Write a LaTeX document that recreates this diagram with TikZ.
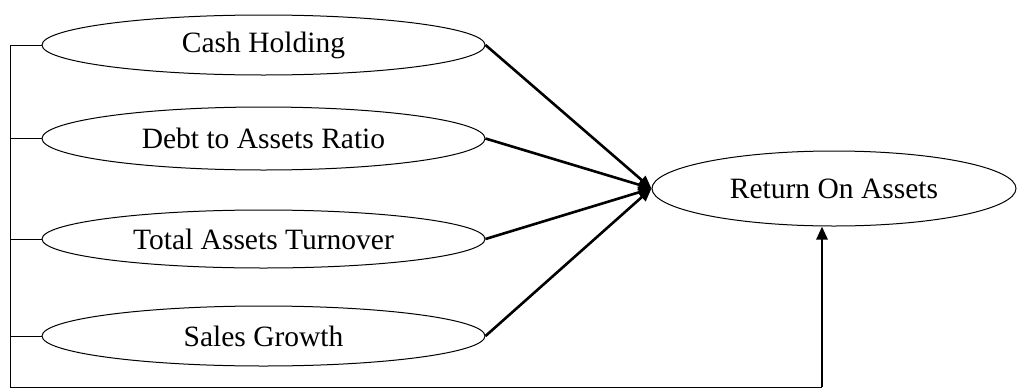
\documentclass[tikz,border=0pt]{standalone}
\usepackage{fontspec}
\setmainfont{Liberation Serif}
\usetikzlibrary{shapes.geometric,arrows.meta}
\begin{document}
\begin{tikzpicture}[x=1pt,y=-1pt,
  oval/.style={draw,ellipse,line width=1pt,inner sep=0pt,minimum width=443pt,minimum height=60pt,font=\fontsize{29.5}{34}\selectfont},
  thin/.style={line width=1pt},
  arr/.style={line width=2.6pt,-{Triangle[length=13pt,width=11pt]}}]
\useasboundingbox (0,0) rectangle (1017,389);
\node[oval] (ch) at (263.5,45) {Cash Holding};
\node[oval,minimum height=63pt] (dar) at (263.5,138.5) {Debt to Assets Ratio};
\node[oval,minimum height=58pt] (tat) at (263.5,239) {Total Assets Turnover};
\node[oval] (sg) at (263.5,336) {Sales Growth};
\node[oval,minimum width=364pt,minimum height=75pt] (roa) at (834,188.5) {Return On Assets};
\coordinate (tl) at (10,45);
\coordinate (bl) at (10,387);
\coordinate (br) at (822,387);
\draw[thin] (ch.west) -- (tl) -- (bl) -- (br);
\draw[thin] (dar.west) -- (dar.west -| tl);
\draw[thin] (tat.west) -- (tat.west -| tl);
\draw[thin] (sg.west) -- (sg.west -| tl);
\draw[arr] (ch.east) -- (roa.west);
\draw[arr] (dar.east) -- (roa.west);
\draw[arr] (tat.east) -- (roa.west);
\draw[arr] (sg.east) -- (roa.west);
\draw[arr] (br) -- (br |- roa.south);
\end{tikzpicture}
\end{document}
